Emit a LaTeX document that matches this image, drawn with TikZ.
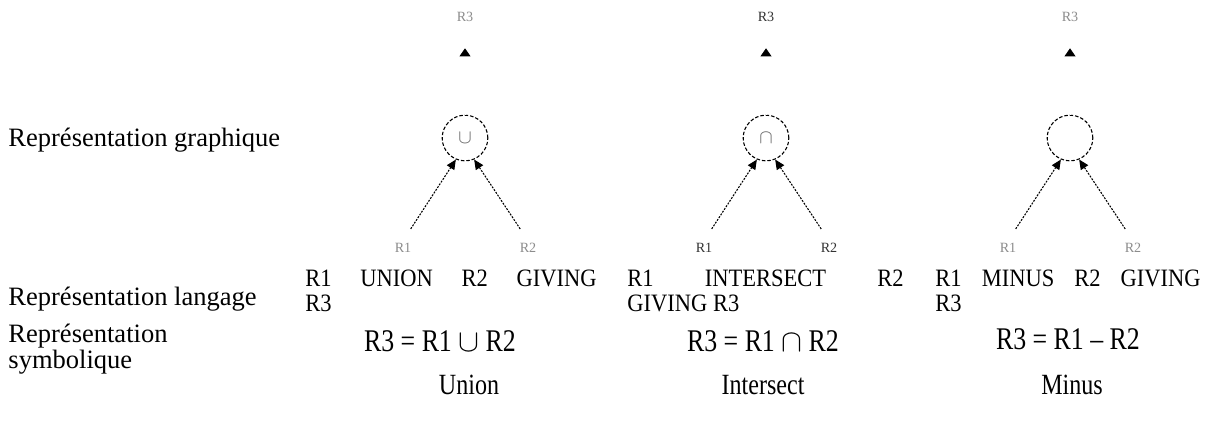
\documentclass[tikz,border=0pt]{standalone}
\usepackage{fontspec}
\setmainfont{Liberation Serif}
\newfontfamily\narrowserif{Liberation Serif}[FakeStretch=0.9]
\newfontfamily\slimserif{Liberation Serif}[FakeStretch=0.82]
\usepackage{tikz}
\usetikzlibrary{arrows.meta,positioning}
\tikzset{
  opnode/.style={circle,draw,dash pattern=on 1.6pt off 0.9pt,line width=0.5pt,minimum size=21pt,inner sep=0pt,font=\fontsize{9}{9}\selectfont,text=black!60},
  leaf/.style={font=\fontsize{6.5}{6.5}\selectfont,text=black!45,inner sep=1pt},
  feed/.style={draw,dash pattern=on 0.9pt off 0.6pt,line width=0.5pt,shorten <=6.5pt,-{Triangle[length=4.5pt,width=4pt]}},
  rise/.style={draw=white,-{Triangle[length=3.7pt,width=5pt,color=black]},shorten >=11pt},
  rowlabel/.style={anchor=base west,font=\fontsize{12.2}{14}\selectfont,inner sep=0pt},
  stmt/.style={anchor=base west,font=\narrowserif\fontsize{11.5}{13}\selectfont,inner sep=0pt},
  formula/.style={anchor=base,font=\slimserif\fontsize{14.5}{16}\selectfont,inner sep=0pt},
  opname/.style={anchor=base,font=\slimserif\fontsize{13.5}{15}\selectfont,inner sep=0pt}
}

\begin{document}
\begin{tikzpicture}[x=0.46pt,y=-0.46pt]
\useasboundingbox (0,0) rectangle (1220,423);

% row labels
\node[rowlabel] (lgraph) at (8,146) {Représentation graphique};
\node[rowlabel] (llang) at (8,305) {Représentation langage};
\node[rowlabel] (lsym) at (8,342) {Représentation};
\node[rowlabel] (lsym2) at (8,368) {symbolique};

% union
\node[opnode] (u) at (465,138) {$\cup$};
\node[leaf] (u3) at (465,17) {R3};
\node[leaf] (u1) at (403,248) {R1};
\node[leaf] (u2) at (528,248) {R2};
\draw[feed] (u1.north) -- (u.-113);
\draw[feed] (u2.north) -- (u.-67);
\draw[rise] (u.north) -- (u3.south);

% intersect
\node[opnode] (i) at (766,138) {$\cap$};
\node[leaf,text=black!80] (i3) at (766,17) {R3};
\node[leaf,text=black!80] (i1) at (704,248) {R1};
\node[leaf,text=black!80] (i2) at (829,248) {R2};
\draw[feed] (i1.north) -- (i.-113);
\draw[feed] (i2.north) -- (i.-67);
\draw[rise] (i.north) -- (i3.south);

% minus
\node[opnode] (m) at (1070,138) {};
\node[leaf] (m3) at (1070,17) {R3};
\node[leaf] (m1) at (1008,248) {R1};
\node[leaf] (m2) at (1133,248) {R2};
\draw[feed] (m1.north) -- (m.-113);
\draw[feed] (m2.north) -- (m.-67);
\draw[rise] (m.north) -- (m3.south);

% language form
\node[stmt] (su1) at (305,286) {\makebox[134pt][s]{R1 UNION R2 GIVING}};
\node[stmt] (su2) at (305,311) {R3};
\node[stmt] (si1) at (627,286) {\makebox[127pt][s]{R1 INTERSECT R2}};
\node[stmt] (si2) at (627,311) {GIVING R3};
\node[stmt] (sm1) at (935,286) {\makebox[122pt][s]{R1 MINUS R2 GIVING}};
\node[stmt] (sm2) at (935,311) {R3};

% symbolic form
\node[formula] (fu) at (440,351) {R3 = R1 $\cup$ R2};
\node[formula] (fi) at (763,351) {R3 = R1 $\cap$ R2};
\node[formula] (fm) at (1068,349) {R3 = R1 – R2};

\node[opname] (nu) at (469,394) {Union};
\node[opname] (ni) at (763,394) {Intersect};
\node[opname] (nm) at (1072,394) {Minus};
\end{tikzpicture}
\end{document}
